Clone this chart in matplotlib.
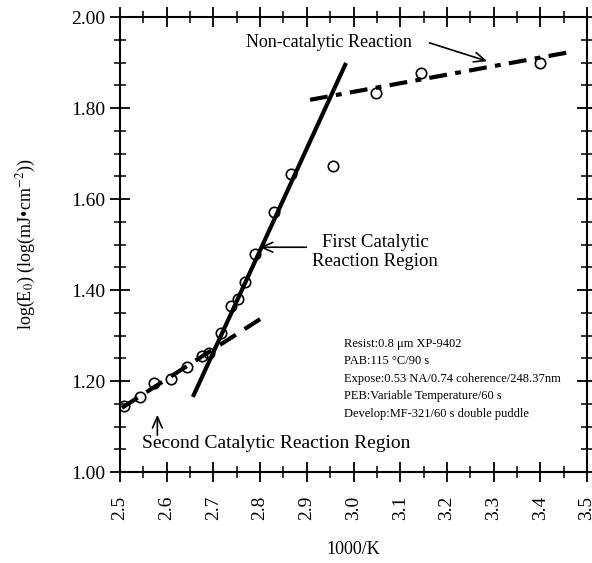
import matplotlib.pyplot as plt
from matplotlib.ticker import MultipleLocator, FormatStrFormatter

plt.rcParams['font.family'] = ['Liberation Serif', 'DejaVu Serif']
plt.rcParams['mathtext.fontset'] = 'stix'

# measured points: 1000/K vs log(E0)
inv_t = [2.509, 2.543, 2.573, 2.609, 2.643, 2.675, 2.69, 2.716, 2.738, 2.753,
         2.768, 2.789, 2.830, 2.866, 2.956, 3.048, 3.145, 3.399]
log_e0 = [1.145, 1.165, 1.196, 1.204, 1.231, 1.255, 1.262, 1.305, 1.365, 1.380,
          1.418, 1.479, 1.571, 1.655, 1.673, 1.833, 1.877, 1.899]

# fitted lines (end points)
fit1_x = [2.656, 2.984]   # first catalytic
fit1_y = [1.165, 1.899]
fit2_x = [2.504, 2.800]   # second catalytic
fit2_y = [1.141, 1.336]
fit3_x = [2.907, 3.464]   # non-catalytic
fit3_y = [1.818, 1.923]

info = ["Resist:0.8 \u03bcm XP-9402",
        "PAB:115 \u00b0C/90 s",
        "Expose:0.53 NA/0.74 coherence/248.37nm",
        "PEB:Variable Temperature/60 s",
        "Develop:MF-321/60 s double puddle"]

fig = plt.figure(figsize=(5.92, 5.63), dpi=100)
ax = fig.add_axes([0.2027, 0.1616, 0.7889, 0.8082])

ax.plot(fit1_x, fit1_y, color='black', lw=3, solid_capstyle='butt')
ax.plot(fit2_x, fit2_y, color='black', lw=3, dashes=(4.5, 2.5), dash_capstyle='butt')
ax.plot(fit3_x, fit3_y, color='black', lw=3, dashes=(4.3, 2, 1.4, 2), dash_capstyle='butt')
ax.plot(inv_t, log_e0, 'o', ms=7.5, mfc='none', mec='black', mew=1.2)

ax.set_xlim(2.5, 3.5)
ax.set_ylim(1.0, 2.0)
ax.xaxis.set_major_locator(MultipleLocator(0.1))
ax.xaxis.set_minor_locator(MultipleLocator(0.05))
ax.yaxis.set_major_locator(MultipleLocator(0.2))
ax.yaxis.set_minor_locator(MultipleLocator(0.05))
ax.xaxis.set_major_formatter(FormatStrFormatter('%.1f'))
ax.yaxis.set_major_formatter(FormatStrFormatter('%.2f'))
ax.tick_params(which='major', direction='inout', length=14, width=1.3,
               top=True, right=True, labelsize=14)
ax.tick_params(which='minor', direction='inout', length=8, width=1.1,
               top=True, right=True)
ax.tick_params(axis='x', labelrotation=90, pad=10)
for s in ax.spines.values():
    s.set_linewidth(1.5)

ax.set_xlabel('1000/K', fontsize=13, labelpad=15)
ax.set_ylabel('log(E$_0$) (log(mJ\u2022cm$^{-2}$))', fontsize=13, labelpad=24)

arrow = dict(arrowstyle='->,head_length=0.8,head_width=0.35', color='black', lw=1.2)

ax.text(3.125, 1.945, 'Non-catalytic Reaction', fontsize=13, ha='right', va='center')
ax.annotate('', xy=(3.292, 1.901), xytext=(3.157, 1.945), arrowprops=arrow)

ax.text(3.046, 1.4835, 'First Catalytic\nReaction Region', fontsize=13.5,
        ha='center', va='center', multialignment='center')
ax.annotate('', xy=(2.793, 1.494), xytext=(2.905, 1.494), arrowprops=arrow)

ax.annotate('', xy=(2.58, 1.132), xytext=(2.58, 1.075), arrowprops=arrow)
ax.text(2.547, 1.063, 'Second Catalytic Reaction Region', fontsize=14,
        ha='left', va='center')

ax.text(2.98, 1.205, '\n'.join(info), fontsize=9, ha='left', va='center',
        linespacing=1.6)

plt.savefig('out.png', dpi=100)
